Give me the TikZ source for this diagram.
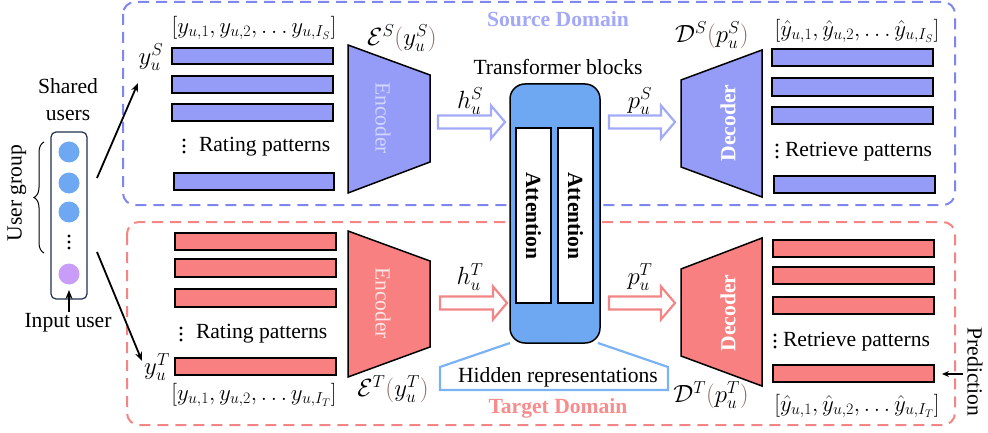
\documentclass[tikz,border=0pt]{standalone}
\usepackage{graphicx}
\usepackage{fontspec}
\setmainfont{Liberation Serif}
\usetikzlibrary{arrows.meta,decorations.pathreplacing}

\definecolor{srcfill}{HTML}{959CF7}
\definecolor{tgtfill}{HTML}{F88080}
\definecolor{srcdash}{HTML}{7F86EE}
\definecolor{tgtdash}{HTML}{F58585}
\definecolor{srctext}{HTML}{A3A8F8}
\definecolor{tgttext}{HTML}{F88C8C}
\definecolor{tblue}{HTML}{6EA8F2}
\definecolor{callout}{HTML}{7AB2F4}
\definecolor{upurple}{HTML}{C99CF7}
\definecolor{paren}{HTML}{8C6A64}
\definecolor{navy}{HTML}{1F3050}
\definecolor{srcarrow}{HTML}{A3AAF8}
\definecolor{tgtarrow}{HTML}{F28585}
\definecolor{enclight}{HTML}{D2D6FF}
\definecolor{enclightr}{HTML}{FFE4E4}

\newcommand{\hollowarrow}[4]{%
  \draw[#4,line width=2.2pt,fill=white,line join=miter]
    (#1,{#3-6.5}) -- ({#2-14},{#3-6.5}) -- ({#2-14},{#3-16.5}) -- (#2,#3)
    -- ({#2-14},{#3+16.5}) -- ({#2-14},{#3+6.5}) -- (#1,{#3+6.5}) -- cycle;}
\newcommand{\vdotmark}[2]{%
  \fill (#1,{#2-6}) circle (1.6pt) (#1,#2) circle (1.6pt) (#1,{#2+6}) circle (1.6pt);}
\newcommand{\pp}[1]{{\color{paren}#1}}
\newcommand{\vecl}[1]{\scalebox{0.92}{#1}}

\begin{document}
\begin{tikzpicture}[x=1pt,y=-1pt,
  every node/.style={inner sep=0pt,outer sep=0pt,font=\fontsize{21.6}{27}\selectfont},
  mathlab/.style={font=\fontsize{23.5}{28}\selectfont},
  veclab/.style={font=\fontsize{23}{27}\selectfont},
  sbar/.style={draw=black,line width=1.5pt,fill=srcfill},
  tbar/.style={draw=black,line width=1.5pt,fill=tgtfill},
  domainbox/.style={rounded corners=12pt,line width=2pt,dash pattern=on 11pt off 7pt},
  coder/.style={draw=black,line width=1.5pt},
  blackarrow/.style={-{Stealth[length=9pt,width=7pt]},line width=1.8pt},
  circ/.style={circle,minimum size=21pt,fill=tblue}
]
\useasboundingbox (0,0) rectangle (988,433);

% domain boxes
\draw[domainbox,draw=srcdash] (123,2) rectangle (955,205);
\draw[domainbox,draw=tgtdash] (127,222) rectangle (955,425);
\node[text=srctext,font=\fontsize{21.6}{27}\selectfont\bfseries] (srcdom) at (558,19) {Source Domain};
\node[text=tgttext,font=\fontsize{21.6}{27}\selectfont\bfseries] (tgtdom) at (558,408) {Target Domain};

% user column
\draw[navy,line width=1.2pt,rounded corners=5pt] (51,132) rectangle (87,299);
\node[circ] (c1) at (69,152) {};
\node[circ] (c2) at (69,183) {};
\node[circ] (c3) at (69,212) {};
\vdotmark{69}{242}
\node[circ,fill=upurple] (c4) at (69,274) {};
\node[align=center] (shared) at (68,99.5) {Shared\\users};
\node (input) at (68,323) {Input user};
\node[rotate=90] (ugroup) at (17,193) {User group};
\draw[decorate,decoration={brace,amplitude=10pt},line width=1pt] (44,253) -- (44,142);
\coordinate (inbot) at (69,312);
\coordinate (intop) at (69,290);
\draw[blackarrow] (inbot) -- (intop);

% arrows to rating vectors
\node[mathlab] (ysrc) at (151,57) {$y_u^S$};
\node[mathlab] (ytgt) at (157,367) {$y_u^T$};
\coordinate (a1s) at (97,178);
\coordinate (a1e) at (138,83);
\coordinate (a2s) at (97,252);
\coordinate (a2e) at (142,361);
\draw[blackarrow] (a1s) -- (a1e);
\draw[blackarrow] (a2s) -- (a2e);

% source rating bars
\draw[sbar] (172,48) rectangle (333,64);
\draw[sbar] (172,76) rectangle (333,93);
\draw[sbar] (172,104) rectangle (333,121);
\draw[sbar] (174,173) rectangle (334,190);
\node[veclab] (srcvec) at (254,28) {\vecl{$[y_{u,1},y_{u,2},\ldots y_{u,I_S}]$}};
\vdotmark{184}{146}
\node[anchor=west] (srate) at (199,147) {Rating patterns};

% target rating bars
\draw[tbar] (175,233) rectangle (336,250);
\draw[tbar] (175,259) rectangle (336,277);
\draw[tbar] (175,289) rectangle (336,307);
\draw[tbar] (175,358) rectangle (336,375);
\node[veclab] (tgtvec) at (254,395) {\vecl{$[y_{u,1},y_{u,2},\ldots y_{u,I_T}]$}};
\vdotmark{181}{334}
\node[anchor=west] (trate) at (196,334) {Rating patterns};

% encoders
\draw[coder,fill=srcfill] (348,45) -- (430,75) -- (430,162) -- (348,193) -- cycle;
\draw[coder,fill=tgtfill] (348,231) -- (430,261) -- (430,347) -- (348,377) -- cycle;
\node[rotate=-90,text=enclight] (encs) at (383,118) {Encoder};
\node[rotate=-90,text=enclightr] (enct) at (383,303) {Encoder};
\node[mathlab] (encslab) at (402,38) {$\mathcal{E}^S\pp{(}y_u^S\pp{)}$};
\node[mathlab] (enctlab) at (393,389) {$\mathcal{E}^T\pp{(}y_u^T\pp{)}$};

% transformer
\node (tblocks) at (558,67) {Transformer blocks};
\draw[fill=tblue,line width=1.5pt,rounded corners=15pt] (510,84) rectangle (600,343);
\draw[fill=white,line width=1.2pt] (516,128) rectangle (551,303);
\draw[fill=white,line width=1.2pt] (558,128) rectangle (593,303);
\node[rotate=-90,font=\fontsize{21.6}{27}\selectfont\bfseries] (att1) at (533.5,216) {Attention};
\node[rotate=-90,font=\fontsize{21.6}{27}\selectfont\bfseries] (att2) at (575.5,216) {Attention};

% hollow arrows
\hollowarrow{438}{505}{122}{draw=srcarrow}
\hollowarrow{609}{675}{122}{draw=srcarrow}
\hollowarrow{440}{507}{303}{draw=tgtarrow}
\hollowarrow{609}{675}{303}{draw=tgtarrow}
\node[mathlab] (hs) at (470,101) {$h_u^S$};
\node[mathlab] (ps) at (640,101) {$p_u^S$};
\node[mathlab] (ht) at (470,277) {$h_u^T$};
\node[mathlab] (pt) at (640,277) {$p_u^T$};

% hidden representations callout
\draw[callout,line width=2.2pt] (510,343) -- (440,367) -- (440,390) -- (668,390) -- (668,367) -- (598,343);
\node (hidden) at (558,377) {Hidden representations};

% decoders
\draw[coder,fill=srcfill] (681,80) -- (762,50) -- (762,197) -- (681,167) -- cycle;
\draw[coder,fill=tgtfill] (681,269) -- (762,238) -- (762,386) -- (681,356) -- cycle;
\node[rotate=90,text=white,font=\fontsize{21.6}{27}\selectfont\bfseries] (decs) at (728,123) {Decoder};
\node[rotate=90,text=white,font=\fontsize{21.6}{27}\selectfont\bfseries] (dect) at (728,313) {Decoder};
\node[mathlab] (decslab) at (712,35) {$\mathcal{D}^S\pp{(}p_u^S\pp{)}$};
\node[mathlab] (dectlab) at (711,395) {$\mathcal{D}^T\pp{(}p_u^T\pp{)}$};

% source retrieved bars
\draw[sbar] (772,49) rectangle (933,66);
\draw[sbar] (772,78) rectangle (933,96);
\draw[sbar] (772,107) rectangle (933,124);
\draw[sbar] (774,176) rectangle (935,193);
\node[veclab] (srcout) at (857,31) {\vecl{$[\hat{y}_{u,1},\hat{y}_{u,2},\ldots\hat{y}_{u,I_S}]$}};
\vdotmark{777}{151}
\node[anchor=west] (sret) at (785,152) {Retrieve patterns};

% target retrieved bars
\draw[tbar] (773,240) rectangle (934,257);
\draw[tbar] (773,267) rectangle (934,284);
\draw[tbar] (773,297) rectangle (934,314);
\node[tbar,minimum width=161pt,minimum height=17pt] (tlast) at (853.5,373.5) {};
\node[veclab] (tgtout) at (857,406) {\vecl{$[\hat{y}_{u,1},\hat{y}_{u,2},\ldots\hat{y}_{u,I_T}]$}};
\vdotmark{775}{341}
\node[anchor=west] (tret) at (783,342) {Retrieve patterns};

% prediction
\node[rotate=-90] (pred) at (975,372) {Prediction};
\coordinate (predstart) at (963,374);
\draw[-{Stealth[length=7pt,width=6pt]},line width=1.4pt] (predstart) -- ([xshift=8pt]tlast.east |- predstart);
\end{tikzpicture}
\end{document}
